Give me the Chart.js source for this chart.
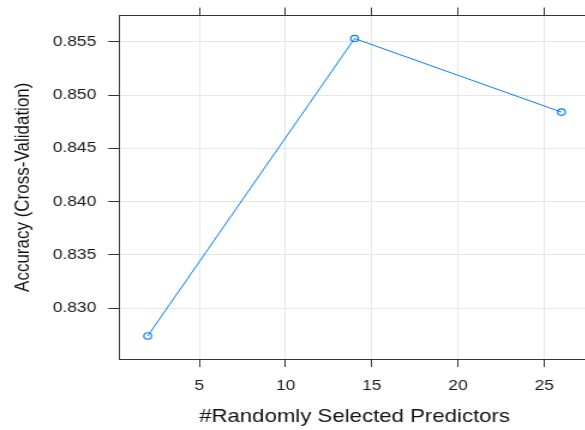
<!DOCTYPE html>
<html>
<head>
<meta charset="utf-8">
<script src="https://cdn.jsdelivr.net/npm/chart.js@4/dist/chart.umd.min.js"></script>
<style>
  html, body { margin: 0; padding: 0; overflow: hidden; background: #fff; }
  /* the reference is stretched horizontally, so draw narrow and widen */
  #chart { display: block; transform: scaleX(1.2); transform-origin: 0 0; }
</style>
</head>
<body>
<canvas id="chart" width="500" height="430"></canvas>
<script>
// Data
const mtry = [2, 14, 26];
const accuracy = [0.8274, 0.8553, 0.8484];
const xTicks = [5, 10, 15, 20, 25];
const yTicks = [0.830, 0.835, 0.840, 0.845, 0.850, 0.855];
const xLabel = "#Randomly Selected Predictors";
const yLabel = "Accuracy (Cross-Validation)";

const lineColor = "#0080ff";
const gridColor = "#e6e6e6";
const axisColor = "#333333";
const fontFamily = "'Liberation Sans', Arial, sans-serif";

const points = mtry.map((m, i) => ({ x: m, y: accuracy[i] }));

function fixTicks(values) {
    return (scale) => {
        scale.ticks = values.map((v) => ({ value: v }));
    };
}

const ctx = document.getElementById("chart").getContext("2d");
new Chart(ctx, {
    type: "line",
    data: {
        datasets: [
            {
                data: points,
                borderColor: lineColor,
                borderWidth: 1,
                backgroundColor: "transparent",
                pointRadius: 3.2,
                pointBorderWidth: 1.2,
                pointBorderColor: lineColor,
                pointBackgroundColor: "transparent",
                tension: 0,
                fill: false,
            },
        ],
    },
    options: {
        responsive: false,
        animation: false,
        layout: { autoPadding: false, padding: { left: 0, right: 8.3, top: 0, bottom: 0 } },
        plugins: {
            legend: { display: false },
            tooltip: { enabled: false },
        },
        scales: {
            x: {
                type: "linear",
                position: "bottom",
                min: 0.34,
                max: 27.66,
                afterBuildTicks: fixTicks(xTicks),
                afterFit: (s) => {
                    s.height = 71;
                    s.paddingLeft = 0;
                    s.paddingRight = 0;
                },
                grid: { color: gridColor, tickColor: axisColor, tickLength: 8, lineWidth: 1 },
                border: { color: axisColor, width: 1 },
                ticks: {
                    autoSkip: false, maxRotation: 0, padding: 10, color: "#1a1a1a",
                    font: { family: fontFamily, size: 14.5 },
                },
                title: {
                    display: true, text: xLabel, color: "#111",
                    font: { family: fontFamily, size: 18.5, lineHeight: 1 },
                    padding: { top: 0, bottom: 4 },
                },
            },
            x2: {
                type: "linear",
                position: "top",
                min: 0.34,
                max: 27.66,
                afterBuildTicks: fixTicks(xTicks),
                afterFit: (s) => {
                    s.height = 15.5;
                    s.paddingLeft = 0;
                    s.paddingRight = 0;
                },
                grid: { drawOnChartArea: false, tickColor: axisColor, tickLength: 8 },
                border: { color: axisColor, width: 1 },
                ticks: { display: false },
            },
            y: {
                type: "linear",
                position: "left",
                min: 0.82524,
                max: 0.85746,
                afterBuildTicks: fixTicks(yTicks),
                afterFit: (s) => {
                    s.width = 99.2;
                    s.paddingTop = 0;   // labels never reach the ends, so no extra room
                    s.paddingBottom = 0;
                },
                grid: { color: gridColor, tickColor: axisColor, tickLength: 9, lineWidth: 1 },
                border: { color: axisColor, width: 1 },
                ticks: {
                    padding: 10, color: "#1a1a1a",
                    font: { family: fontFamily, size: 14.5 },
                    callback: (v) => v.toFixed(3),
                },
                title: {
                    display: true, text: yLabel, color: "#111",
                    font: { family: fontFamily, size: 17, lineHeight: 1 },
                    padding: { top: 10.5, bottom: 0 },
                },
            },
        },
    },
});
</script>
</body>
</html>
